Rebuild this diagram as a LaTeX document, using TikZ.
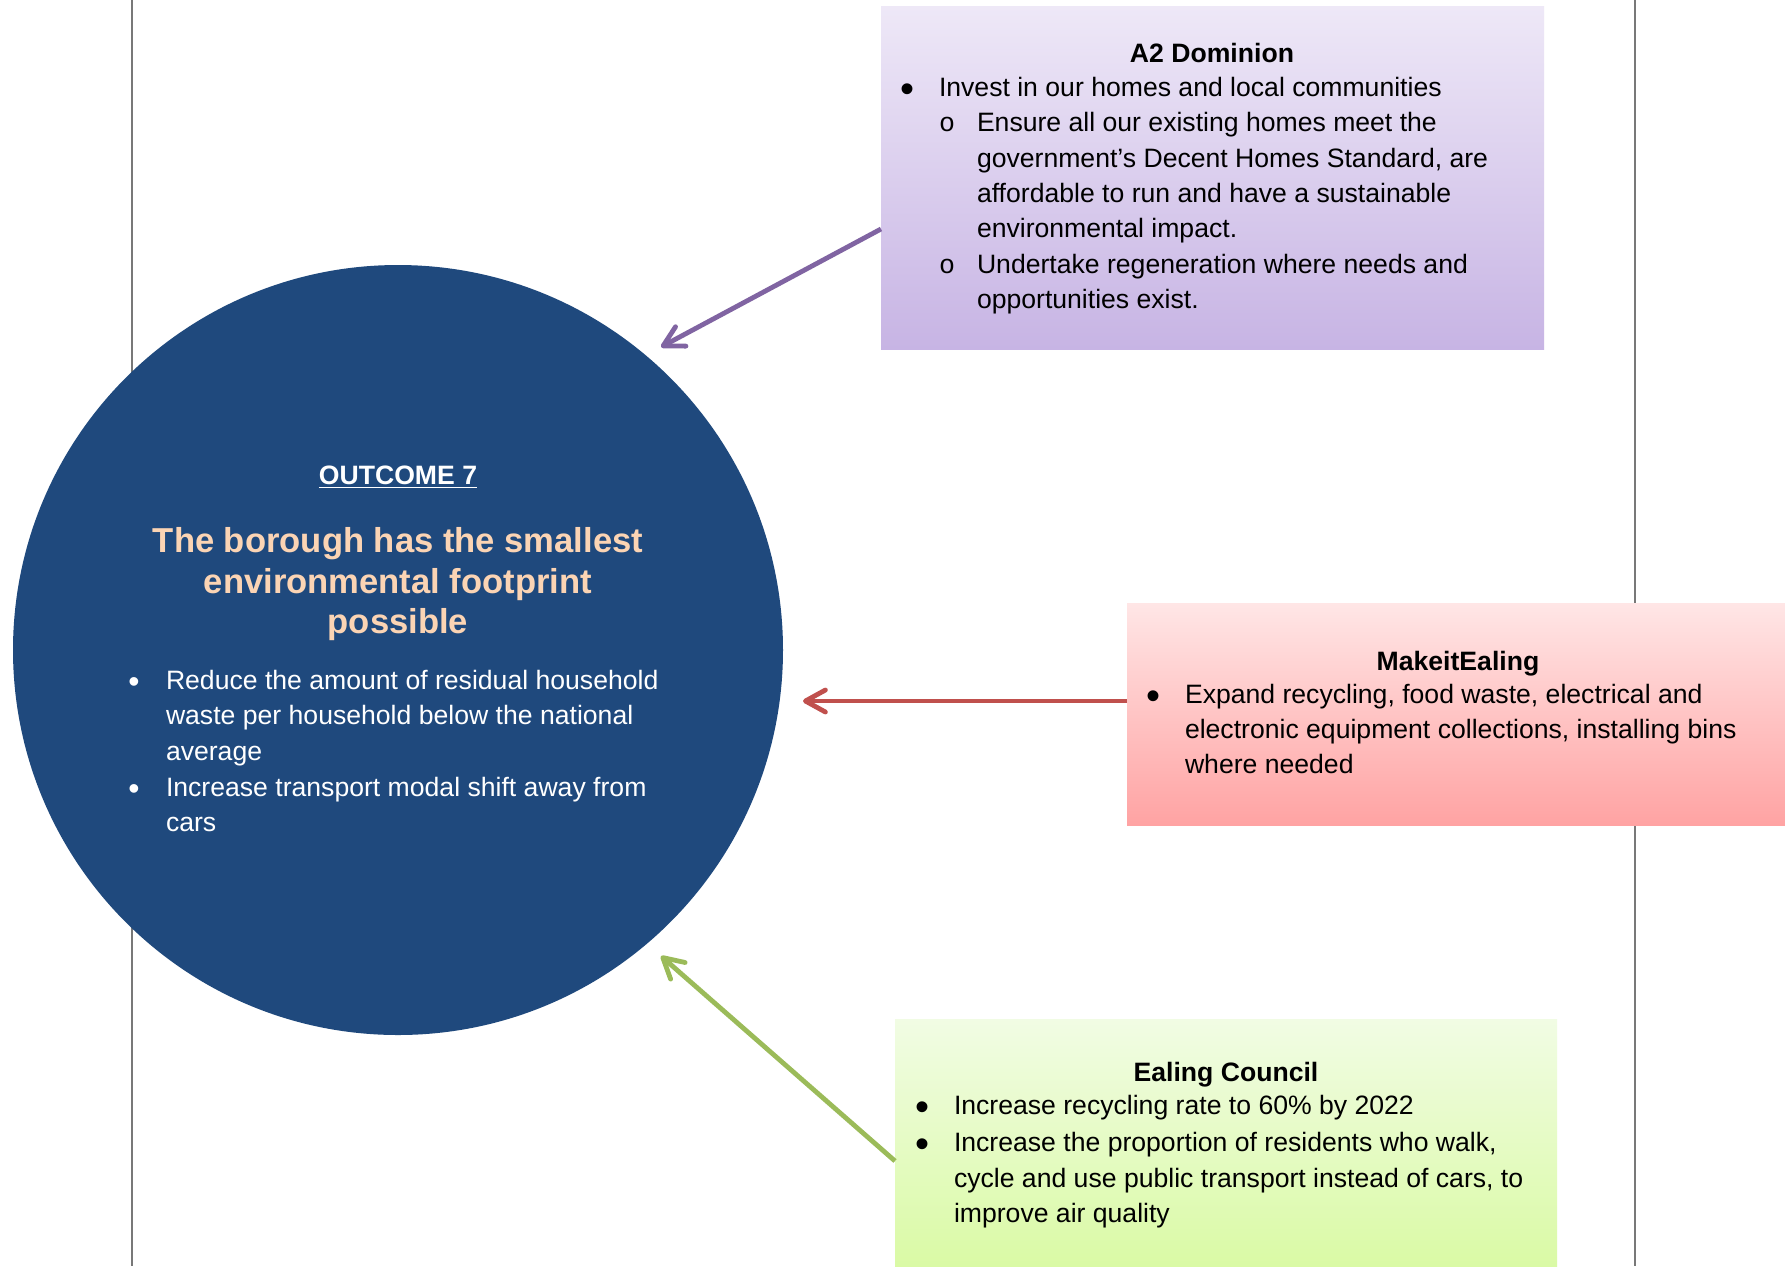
\documentclass[tikz,border=0pt]{standalone}
\usepackage{fontspec}
\setmainfont{Liberation Sans}
\newfontfamily\monofont{Liberation Mono}
\usetikzlibrary{arrows.meta,shadings}
\definecolor{outblue}{HTML}{1F497D}
\definecolor{peach}{HTML}{FBD4B4}
\definecolor{purpA}{HTML}{8064A2}
\definecolor{redA}{HTML}{C0504D}
\definecolor{greenA}{HTML}{9BBB59}
\definecolor{gridgray}{RGB}{120,120,120}
\definecolor{purpTop}{RGB}{238,232,247}
\definecolor{purpBot}{RGB}{199,180,228}
\definecolor{redTop}{RGB}{255,230,230}
\definecolor{redBot}{RGB}{255,163,163}
\definecolor{grnTop}{RGB}{241,252,228}
\definecolor{grnBot}{RGB}{218,250,165}
\begin{document}
\begin{tikzpicture}[x=0.5pt,y=-0.5pt,
  txt/.style={inner sep=0pt, outer sep=0pt, font=\fontsize{13.3}{16}\selectfont},
  ln/.style={txt, anchor=base west},
  bul/.style={txt, anchor=base, font=\fontsize{20}{20}\selectfont},
  sbul/.style={txt, anchor=base, font=\fontsize{13.3}{16}\selectfont\monofont},
  hd/.style={txt, anchor=base, font=\fontsize{13.3}{16}\selectfont\bfseries},
  ttl/.style={txt, anchor=base, text=peach, font=\fontsize{17.3}{20}\selectfont\bfseries},
  wln/.style={ln, text=white},
  wbul/.style={txt, anchor=base, text=white, font=\fontsize{16}{16}\selectfont},
  panel/.style={rectangle, inner sep=0pt, outer sep=0pt, anchor=north west, draw=none},
  gridline/.style={gridgray, line width=1.4pt},
  conn/.style={line width=2.4pt, -{Straight Barb[length=10pt,width=11pt,round]}}]
\useasboundingbox (0,0) rectangle (1785,1266);
\fill[white] (0,0) rectangle (1785,1266);
% page table borders
\draw[gridline] (132,0) -- (132,1266);
\draw[gridline] (1635,0) -- (1635,1266);
% panels
\node[panel, top color=purpTop, bottom color=purpBot, minimum width=331.5pt, minimum height=171.5pt] (a2) at (881,6) {};
\node[panel, top color=redTop, bottom color=redBot, minimum width=329pt, minimum height=111pt] (mk) at (1127,603) {};
\node[panel, top color=grnTop, bottom color=grnBot, minimum width=331pt, minimum height=123.5pt] (ec) at (895,1019) {};
% outcome circle
\node[circle, fill=outblue, minimum size=385pt, inner sep=0pt, outer sep=0pt] (o7) at (398,650) {};
% connectors
\coordinate (aS) at (a2.west |- 0,229);
\coordinate (aT) at (661,347);
\coordinate (rS) at (mk.west |- 0,701);
\coordinate (rT) at (803,701);
\coordinate (gS) at (ec.west |- 0,1161);
\coordinate (gT) at (661,956);
\draw[conn, purpA] (aS) -- (aT);
\draw[conn, redA] (rS) -- (rT);
\draw[conn, greenA] (gS) -- (gT);
% A2 Dominion
\node[hd] (a2h) at (1212,62) {A2 Dominion};
\node[bul] (a2b1) at (907,102) {•};
\node[ln] (a2l1) at (939,96) {Invest in our homes and local communities};
\node[sbul] (a2s1) at (947,131) {o};
\node[ln] (a2l2) at (977,131) {Ensure all our existing homes meet the};
\node[ln] (a2l3) at (977,167) {government’s Decent Homes Standard, are};
\node[ln] (a2l4) at (977,202) {affordable to run and have a sustainable};
\node[ln] (a2l5) at (977,237) {environmental impact.};
\node[sbul] (a2s2) at (947,273) {o};
\node[ln] (a2l6) at (977,273) {Undertake regeneration where needs and};
\node[ln] (a2l7) at (977,308) {opportunities exist.};
% MakeitEaling
\node[hd] (mkh) at (1458,670) {MakeitEaling};
\node[bul] (mkb) at (1153,709) {•};
\node[ln] (mk1) at (1185,703) {Expand recycling, food waste, electrical and};
\node[ln] (mk2) at (1185,738) {electronic equipment collections, installing bins};
\node[ln] (mk3) at (1185,773) {where needed};
% Ealing Council
\node[hd] (ech) at (1226,1081) {Ealing Council};
\node[bul] (ecb1) at (922,1120) {•};
\node[ln] (ec1) at (954,1114) {Increase recycling rate to 60\% by 2022};
\node[bul] (ecb2) at (922,1157) {•};
\node[ln] (ec2) at (954,1151) {Increase the proportion of residents who walk,};
\node[ln] (ec3) at (954,1187) {cycle and use public transport instead of cars, to};
\node[ln] (ec4) at (954,1222) {improve air quality};
% Outcome text
\node[hd, text=white] (o7h) at (398,484) {\underline{OUTCOME 7}};
\node[ttl] (o7t1) at (398,552) {The borough has the smallest};
\node[ttl] (o7t2) at (398,593) {environmental footprint};
\node[ttl] (o7t3) at (398,633) {possible};
\node[wbul] (o7b1) at (134,692) {•};
\node[wln] (o7l1) at (166,689) {Reduce the amount of residual household};
\node[wln] (o7l2) at (166,724) {waste per household below the national};
\node[wln] (o7l3) at (166,760) {average};
\node[wbul] (o7b2) at (134,799) {•};
\node[wln] (o7l4) at (166,796) {Increase transport modal shift away from};
\node[wln] (o7l5) at (166,831) {cars};
\end{tikzpicture}
\end{document}
